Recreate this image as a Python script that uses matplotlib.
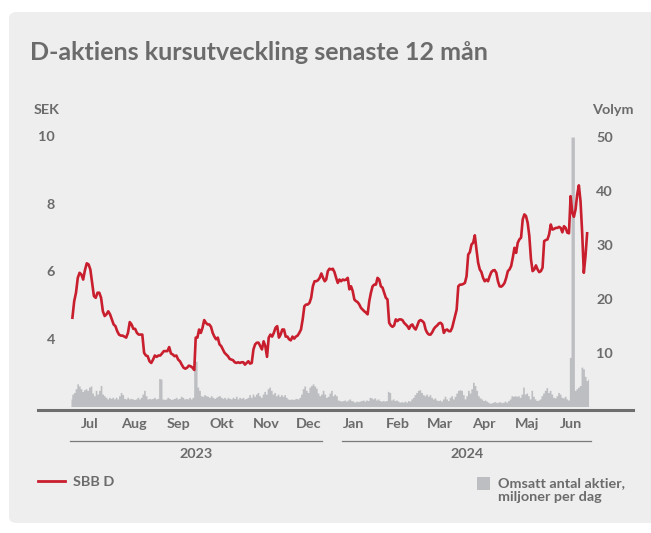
import numpy as np
import pandas as pd
import matplotlib
matplotlib.use("Agg")
import matplotlib.pyplot as plt
import matplotlib.dates as mdates
import matplotlib.transforms as mtransforms
from matplotlib.patches import FancyBboxPatch, Patch, Rectangle
from matplotlib.lines import Line2D
from matplotlib.legend_handler import HandlerPatch

# SBB D closing price, SEK in four stretches
price_jul_sep = [4.63, 5.12, 5.37, 5.81, 5.96, 5.91, 5.76, 6.04, 6.24, 6.21,
                 6.06, 5.67, 5.27, 5.22, 5.37, 5.37, 5.22, 4.82, 4.68, 4.73,
                 4.82, 4.73, 4.58, 4.43, 4.38, 4.23, 4.13, 4.10, 4.10, 4.07,
                 4.04, 4.18, 4.50, 4.43, 4.30, 4.30, 4.18, 4.13, 4.13, 4.13,
                 3.59, 3.51, 3.49, 3.34, 3.29, 3.39, 3.51, 3.47, 3.51, 3.51,
                 3.57, 3.64, 3.64, 3.64, 3.76, 3.57, 3.54, 3.49, 3.51, 3.39,
                 3.34, 3.24, 3.15, 3.12, 3.15, 3.21, 3.19, 3.15, 3.08]
price_sep_dec = [4.04, 4.04, 4.28, 4.18, 4.33, 4.56, 4.48, 4.43, 4.43, 4.36,
                 4.18, 4.07, 3.99, 4.04, 3.84, 3.79, 3.69, 3.59, 3.54, 3.49,
                 3.41, 3.39, 3.37, 3.31, 3.29, 3.31, 3.29, 3.31, 3.31, 3.24,
                 3.29, 3.34, 3.27, 3.29, 3.69, 3.84, 3.89, 3.89, 3.79, 3.69,
                 3.93, 3.79, 3.47, 4.04, 4.13, 4.07, 4.18, 4.33, 4.38, 4.04,
                 4.13, 4.28, 4.28, 4.07, 4.07, 3.99, 3.96, 4.07, 4.01, 4.07,
                 4.10, 4.18, 4.28, 4.58, 4.97, 5.02, 5.02, 5.07, 5.22, 5.56,
                 5.71, 5.71, 5.74, 5.81, 5.94, 5.81, 5.71]
price_dec_mar = [5.76, 6.01, 6.08, 6.06, 6.08, 5.98, 5.81, 5.66, 5.76, 5.71,
                 5.76, 5.74, 5.76, 5.81, 5.47, 5.56, 5.42, 5.17, 5.12, 5.09,
                 5.02, 4.92, 4.87, 4.82, 4.78, 4.73, 5.12, 5.37, 5.56, 5.61,
                 5.61, 5.81, 5.76, 5.56, 5.52, 5.37, 5.22, 5.17, 4.48, 4.40,
                 4.36, 4.40, 4.58, 4.53, 4.58, 4.58, 4.56, 4.48, 4.43, 4.38,
                 4.30, 4.40, 4.43, 4.33, 4.28, 4.40, 4.53, 4.56, 4.53, 4.48,
                 4.28, 4.18, 4.13, 4.13, 4.20, 4.30, 4.36, 4.40, 4.46, 4.48,
                 4.43, 4.18, 4.26, 4.28, 4.23, 4.23, 4.33, 4.53]
price_mar_jun = [4.87, 5.56, 5.61, 5.61, 5.63, 5.66, 5.86, 6.50, 6.57, 6.80,
                 6.85, 7.07, 6.65, 6.26, 6.06, 5.98, 5.81, 5.71, 5.76, 5.71,
                 5.86, 5.98, 6.03, 6.04, 5.96, 5.71, 5.56, 5.55, 5.59, 5.66,
                 5.81, 6.01, 6.06, 6.16, 6.41, 6.70, 6.55, 6.85, 6.95, 7.00,
                 7.54, 7.69, 7.64, 7.44, 7.05, 6.36, 6.01, 6.06, 6.18, 6.06,
                 5.98, 6.01, 6.11, 6.90, 6.93, 6.95, 7.10, 7.39, 7.24, 7.26,
                 7.29, 7.29, 7.32, 7.29, 7.16, 7.34, 7.29, 7.15, 7.13, 8.23,
                 7.74, 7.62, 7.84, 8.28, 8.55, 8.08, 7.15, 5.96, 6.45, 7.13]
price_spans = [("2023-07-04", "2023-09-27"), ("2023-09-28", "2023-12-27"),
               ("2023-12-28", "2024-03-26"), ("2024-03-28", "2024-06-27")]

# traded shares, millions per day
volume = [1.4, 2.3, 2.6, 3.3, 4.2, 3.8, 3.3, 2.8, 3.1, 3.3, 3.0, 3.6, 3.8, 2.5,
          2.0, 3.0, 2.3, 3.0, 3.9, 2.3, 2.0, 1.7, 1.4, 1.7, 1.5, 1.7, 1.4, 1.7,
          1.4, 2.0, 2.6, 2.2, 1.5, 1.4, 1.7, 1.4, 1.5, 1.4, 1.3, 1.4, 1.7, 1.4,
          1.7, 2.3, 3.0, 2.0, 1.4, 1.5, 1.4, 1.5, 1.7, 1.4, 1.5, 5.2, 5.1, 1.4,
          1.3, 1.4, 1.7, 1.5, 1.3, 1.4, 1.5, 1.7, 1.4, 1.5, 1.9, 1.7, 1.4, 1.5,
          1.4, 1.7, 1.4, 1.7, 8.4, 8.4, 3.6, 3.0, 2.0, 1.9, 2.2, 2.0, 1.9, 1.7,
          2.0, 1.7, 1.5, 1.7, 1.9, 2.0, 1.7, 1.5, 1.7, 1.4, 1.7, 1.5, 1.4, 1.7,
          1.5, 1.9, 1.4, 1.7, 1.5, 1.7, 1.4, 1.5, 1.7, 2.2, 1.7, 2.3, 1.9, 2.3,
          2.6, 2.0, 1.7, 2.3, 2.8, 2.3, 3.3, 3.6, 3.0, 2.3, 2.6, 2.0, 2.3, 1.9,
          2.2, 1.9, 2.2, 1.7, 1.4, 1.3, 1.4, 1.3, 1.4, 1.5, 1.4, 1.7, 2.3, 3.3,
          3.8, 3.0, 2.6, 3.6, 3.9, 4.2, 3.8, 3.4, 2.5, 2.0, 2.3, 3.0, 2.3, 1.7,
          1.9, 2.5, 3.0, 2.0, 2.3,
          2.0, 1.2, 1.1, 1.0, 1.1, 1.2, 1.0, 1.2, 1.4, 1.1, 1.0, 0.8, 1.0, 0.9,
          1.0, 1.1, 1.2, 1.0, 1.2, 1.1, 1.7, 1.6, 1.4, 1.6, 1.2, 1.4, 1.1, 1.0,
          1.1, 1.0, 1.1, 2.8, 2.6, 1.2, 1.4, 1.1, 1.2, 1.0, 0.8, 0.9, 0.8, 1.0,
          0.8, 1.1, 1.0, 1.4, 1.7, 2.2, 2.6, 3.0, 3.1, 2.6, 2.2, 2.0, 2.3, 1.9,
          2.2, 1.7, 1.4, 1.6, 1.2, 1.1, 1.2, 1.0, 1.4, 1.9, 1.4, 1.1, 1.7, 2.0,
          1.4, 1.9, 2.5, 3.0, 3.1, 3.0, 2.2, 1.4, 2.0, 3.0, 2.5, 3.3, 4.5, 3.9,
          3.0, 2.0, 1.6, 1.4, 1.1, 1.2, 1.0, 0.8, 0.6, 0.7, 0.8, 0.9, 0.7, 0.8,
          0.9, 0.7, 0.8, 1.0, 0.8, 1.1, 1.4, 2.0, 1.9, 2.0, 1.9, 2.0, 1.7, 2.3,
          3.6, 2.3, 2.5, 2.0, 1.4, 3.0, 1.9, 1.4, 1.1, 1.2, 1.4, 2.0, 2.5, 3.0,
          3.5, 2.6, 3.0, 2.3, 1.7, 1.6, 2.0, 2.6, 2.3, 1.7, 1.6, 1.9, 1.4, 1.2,
          9.1, 50.0, 50.0, 3.0, 3.3, 3.6, 3.9, 7.3, 7.0, 5.6, 4.8, 5.1]
volume_span = ("2023-07-03", "2024-06-28")

month_labels = ["Jul", "Aug", "Sep", "Okt", "Nov", "Dec",
                "Jan", "Feb", "Mar", "Apr", "Maj", "Jun"]
year_labels = ["2023", "2024"]
year_spans = [("2023-07-02", "2023-12-25"), ("2024-01-08", "2024-06-30")]

RED = "#C81E2D"
BAR = "#BDBEC1"
TXT = "#6B6B6B"
BG = "#EEEEEE"
FONT = "Lato"
FS = 10.4

W, H = 651, 533

price_chunks = [price_jul_sep, price_sep_dec, price_dec_mar, price_mar_jun]
price_dates = []
for vals, (d0, d1) in zip(price_chunks, price_spans):
    price_dates.extend(pd.date_range(d0, d1, periods=len(vals)))
prices = np.concatenate(price_chunks)
vol_dates = pd.date_range(volume_span[0], volume_span[1], periods=len(volume))
month_mid = pd.date_range("2023-07-01", periods=12, freq="MS") + pd.Timedelta(days=15)

fig = plt.figure(figsize=(W / 100, H / 100), dpi=100)
fig.patch.set_facecolor("white")
panel = FancyBboxPatch((9 / W, 1 - 523 / H), 660 / W, 511 / H,
                       boxstyle="round,pad=0,rounding_size=0.012",
                       transform=fig.transFigure, facecolor=BG, edgecolor="none", zorder=-10)
fig.add_artist(panel)

ax = fig.add_axes([38 / W, 1 - 410 / H, 595 / W, 280 / H])
ax2 = ax.twinx()
ax.set_zorder(ax2.get_zorder() + 1)
ax.patch.set_visible(False)
ax2.patch.set_visible(False)

ax2.fill_between(vol_dates, volume, step="mid", color=BAR, lw=0)
ax.plot(price_dates, prices, color=RED, lw=1.9, solid_joinstyle="round")

ax.set_xlim(pd.Timestamp("2023-06-10"), pd.Timestamp("2024-07-29"))
ax.set_ylim(1.896, 10.19)
ax2.set_ylim(-0.65, 51.3)

ax.set_yticks([4, 6, 8, 10])
ax2.set_yticks([10, 20, 30, 40, 50])
ax.set_xticks(month_mid)
ax.set_xticklabels(month_labels)
ax.tick_params(axis="y", length=0, pad=-12.2)
ax2.tick_params(axis="y", length=0, pad=-26.6)
ax.tick_params(axis="x", length=0, pad=6)
for a in (ax, ax2):
    for lab in a.get_xticklabels() + a.get_yticklabels():
        lab.set_fontfamily(FONT)
        lab.set_fontweight("bold")
        lab.set_fontsize(FS)
        lab.set_color(TXT)
    for s in a.spines.values():
        s.set_visible(False)
ax.spines["bottom"].set_visible(True)
ax.spines["bottom"].set_color("#6E6E6E")
ax.spines["bottom"].set_linewidth(2.2)

# year groups under the month labels
trans = mtransforms.blended_transform_factory(ax.transData, fig.transFigure)
for lab, (d0, d1) in zip(year_labels, year_spans):
    x0, x1 = mdates.date2num(pd.Timestamp(d0)), mdates.date2num(pd.Timestamp(d1))
    ax.plot([x0, x1], [1 - 440.7 / H] * 2, transform=trans, color="#7A7A7A",
            lw=0.9, clip_on=False)
    ax.text((x0 + x1) / 2, 1 - 454 / H, lab, transform=trans, ha="center", va="center",
            fontsize=FS, fontweight="bold", fontfamily=FONT, color=TXT)

fig.text(30 / W, 1 - 52 / H, "D-aktiens kursutveckling senaste 12 mån", fontsize=18,
         fontweight="bold", fontfamily=FONT, color=TXT, va="center", ha="left")
fig.text(34 / W, 1 - 110 / H, "SEK", fontsize=FS, fontweight="bold", fontfamily=FONT,
         color=TXT, va="center", ha="left")
fig.text(634 / W, 1 - 110 / H, "Volym", fontsize=FS, fontweight="bold", fontfamily=FONT,
         color=TXT, va="center", ha="right")


def top_square(legend, orig_handle, xdescent, ydescent, width, height, fontsize):
    side = 0.93 * fontsize
    return Rectangle((-xdescent, -ydescent + height - side), side, side)


font = {"family": FONT, "weight": "bold", "size": FS}
fig.legend(handles=[Line2D([], [], color=RED, lw=2)], labels=["SBB D"],
           loc="center left", bbox_to_anchor=(38 / W, 1 - 482 / H), frameon=False,
           handlelength=1.85, handletextpad=0.55, borderaxespad=0, borderpad=0,
           prop=font, labelcolor=TXT)
fig.legend(handles=[Patch(facecolor=BAR, edgecolor="none")],
           labels=["Omsatt antal aktier,\nmiljoner per dag"],
           handler_map={Patch: HandlerPatch(patch_func=top_square)},
           loc="upper left", bbox_to_anchor=(476.5 / W, 1 - 476.5 / H), frameon=False,
           handlelength=0.93, handleheight=2.58, handletextpad=0.55, borderaxespad=0,
           borderpad=0, labelspacing=0, prop=font, labelcolor=TXT)

fig.savefig("out.png", dpi=100, facecolor=fig.get_facecolor())
